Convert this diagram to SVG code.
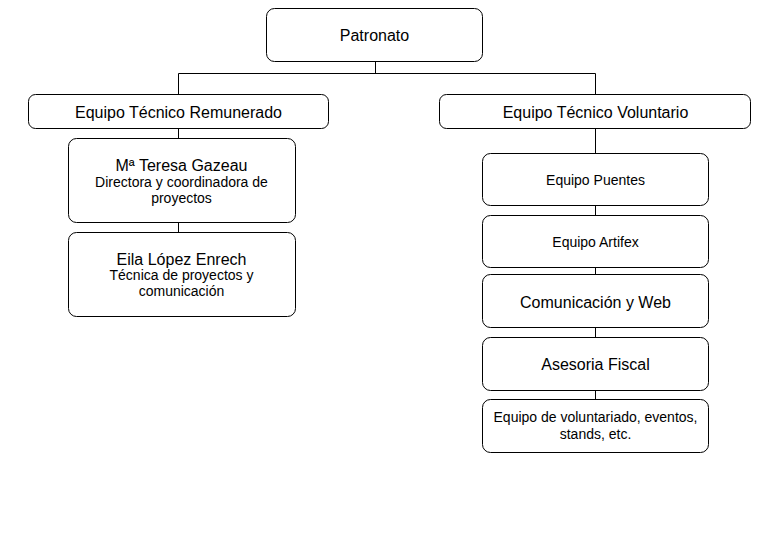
<svg xmlns="http://www.w3.org/2000/svg" width="767" height="536" viewBox="0 0 767 536">
<style>
.box{fill:#fff;stroke:#000;stroke-width:1}
.c{fill:none;stroke:#000;stroke-width:1}
text{font-family:"Liberation Sans",Arial,sans-serif;fill:#000;text-anchor:middle}
.l{font-size:16px}
.s{font-size:14px}
</style>
<rect width="767" height="536" fill="#fff"/>
<g id="connectors">
<path class="c" d="M375.5 62V73.5M178.5 73.5H595.5M178.5 73.5V94M595.5 73.5V94"/>
<path class="c" d="M178.5 129V138M178.5 223V232"/>
<path class="c" d="M595.5 129V153M595.5 206V215M595.5 268V274M595.5 328V337M595.5 391V399"/>
</g>
<g id="patronato"><rect class="box" x="266.5" y="8.5" width="216" height="53" rx="8"/><text class="l" x="374.5" y="41">Patronato</text></g>
<g id="remunerado"><rect class="box" x="28.5" y="94.5" width="300" height="34" rx="7"/><text class="l" x="178.5" y="118">Equipo Técnico Remunerado</text></g>
<g id="voluntario"><rect class="box" x="439.5" y="94.5" width="311" height="34" rx="7"/><text class="l" x="595.5" y="118">Equipo Técnico Voluntario</text></g>
<g id="teresa"><rect class="box" x="68.5" y="138.5" width="227" height="84" rx="8"/><text class="l" x="181.5" y="171">Mª Teresa Gazeau</text><text class="s" x="181.5" y="187">Directora y coordinadora de</text><text class="s" x="181.5" y="203">proyectos</text></g>
<g id="eila"><rect class="box" x="68.5" y="232.5" width="227" height="84" rx="8"/><text class="l" x="181.5" y="265">Eila López Enrech</text><text class="s" x="181.5" y="280">Técnica de proyectos y</text><text class="s" x="181.5" y="296">comunicación</text></g>
<g id="puentes"><rect class="box" x="482.5" y="153.5" width="226" height="52" rx="8"/><text class="s" x="595.5" y="185">Equipo Puentes</text></g>
<g id="artifex"><rect class="box" x="482.5" y="215.5" width="226" height="52" rx="8"/><text class="s" x="595.5" y="247">Equipo Artifex</text></g>
<g id="comunicacion"><rect class="box" x="482.5" y="274.5" width="226" height="53" rx="8"/><text class="l" x="595.5" y="308">Comunicación y Web</text></g>
<g id="fiscal"><rect class="box" x="482.5" y="337.5" width="226" height="53" rx="8"/><text class="l" x="595.5" y="370">Asesoria Fiscal</text></g>
<g id="voluntariado"><rect class="box" x="482.5" y="399.5" width="226" height="53" rx="8"/><text class="s" x="595.5" y="422">Equipo de voluntariado, eventos,</text><text class="s" x="595.5" y="439">stands, etc.</text></g>
</svg>
